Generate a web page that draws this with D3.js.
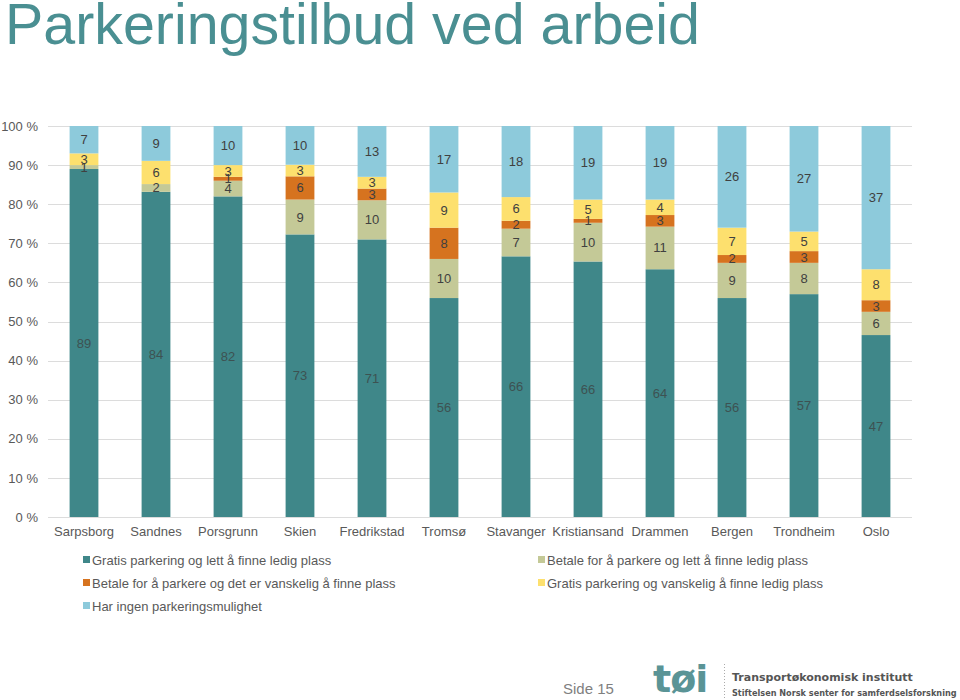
<!DOCTYPE html>
<html><head><meta charset="utf-8">
<script src="https://cdn.jsdelivr.net/npm/d3@7"></script>
<style>body{margin:0;background:#fff}svg{display:block}</style>
</head><body>
<script>
const categories = ["Sarpsborg","Sandnes","Porsgrunn","Skien","Fredrikstad","Tromsø","Stavanger","Kristiansand","Drammen","Bergen","Trondheim","Oslo"];
const seriesNames = ["Gratis parkering og lett å finne ledig plass","Betale for å parkere og lett å finne ledig plass","Betale for å parkere og det er vanskelig å finne plass","Gratis parkering og vanskelig å finne ledig plass","Har ingen parkeringsmulighet"];
const gratisLett     = [89,84,82,73,71,56,66,66,64,56,57,47];
const betaleLett     = [1,2,4,9,10,10,7,10,11,9,8,6];
const betaleVanskelig= [0,0,1,6,3,8,2,1,3,2,3,3];
const gratisVanskelig= [3,6,3,3,3,9,6,5,4,7,5,8];
const ingen          = [7,9,10,10,13,17,18,19,19,26,27,37];
const yTicks = [0,0.1,0.2,0.3,0.4,0.5,0.6,0.7,0.8,0.9,1];
const colors = ["#3f8789","#c4c997","#d6731f","#fde06e","#8dcadb"];
const labelColors = ["#3d5252","#404040","#404040","#404040","#404040"];

const W=960,H=700;
const svg=d3.select("body").append("svg").attr("width",W).attr("height",H);
const font="Liberation Sans, Arial, sans-serif";

const keys=["s0","s1","s2","s3","s4"];
const seriesArr=[gratisLett,betaleLett,betaleVanskelig,gratisVanskelig,ingen];
const rows=categories.map((c,i)=>{const r={cat:c};keys.forEach((k,j)=>r[k]=seriesArr[j][i]);return r;});
const stack=d3.stack().keys(keys).offset(d3.stackOffsetExpand)(rows);

const x=d3.scaleBand().domain(categories).range([48,912]).paddingInner(0.6).paddingOuter(0.3);
const y=d3.scaleLinear().domain([0,1]).range([517,126]);

// title
const title=svg.append("text").attr("x",5).attr("y",44).attr("fill","#4a8f92")
  .attr("font-family",font).attr("font-size",48).text("Parkeringstilbud ved arbeid");
const tl=title.node().getComputedTextLength();
title.attr("font-size",48*695/tl);

// gridlines
svg.append("g").selectAll("line").data(yTicks).join("line")
  .attr("x1",48).attr("x2",912).attr("y1",d=>Math.round(y(d))+0.5).attr("y2",d=>Math.round(y(d))+0.5)
  .attr("stroke","#dcdcdc").attr("stroke-width",1);

// y axis
const ya=svg.append("g").attr("transform","translate(48,0)")
  .call(d3.axisLeft(y).tickValues(yTicks).tickFormat(d=>Math.round(d*100)+" %").tickSize(0).tickPadding(10));
ya.select(".domain").remove();
ya.selectAll("text").attr("font-family",font).attr("font-size",13).attr("fill","#595959");

// x axis
const xa=svg.append("g").attr("transform","translate(0,517)")
  .call(d3.axisBottom(x).tickSize(0).tickPadding(10));
xa.select(".domain").remove();
xa.selectAll("text").attr("font-family",font).attr("font-size",13).attr("fill","#595959");

// bars
const g=svg.append("g");
stack.forEach((s,si)=>{
  g.selectAll(null).data(s).join("rect")
    .attr("x",d=>x(d.data.cat)).attr("width",x.bandwidth())
    .attr("y",d=>y(d[1])).attr("height",d=>Math.max(0,y(d[0])-y(d[1])))
    .attr("fill",colors[si]);
});
stack.forEach((s,si)=>{
  g.selectAll(null).data(s.filter(d=>d.data[keys[si]]>0)).join("text")
    .attr("x",d=>x(d.data.cat)+x.bandwidth()/2).attr("y",d=>(y(d[0])+y(d[1]))/2)
    .attr("dy","0.35em").attr("text-anchor","middle")
    .attr("font-family",font).attr("font-size",13).attr("fill",labelColors[si])
    .text(d=>d.data[keys[si]]);
});

// legend
const legPos=[[83,560],[538,560],[83,583],[538,583],[83,606]];
const lg=svg.append("g");
seriesNames.forEach((name,si)=>{
  const [lx,ly]=legPos[si];
  lg.append("rect").attr("x",lx).attr("y",ly-4).attr("width",7).attr("height",7).attr("fill",colors[si]);
  lg.append("text").attr("x",lx+9).attr("y",ly).attr("dy","0.35em").attr("font-family",font)
    .attr("font-size",13).attr("fill","#595959").text(name);
});

// footer
svg.append("text").attr("x",563).attr("y",694).attr("font-family",font).attr("font-size",15).attr("fill","#7f7f7f").text("Side 15");
svg.append("text").attr("x",653).attr("y",692).attr("font-family","DejaVu Sans, sans-serif").attr("font-weight","bold")
  .attr("font-size",38).attr("fill","#5a9496").attr("letter-spacing",-1).text("tøi");
svg.append("line").attr("x1",724.5).attr("x2",724.5).attr("y1",664).attr("y2",698).attr("stroke","#aaa").attr("stroke-dasharray","1,2");
svg.append("text").attr("x",732).attr("y",681).attr("font-family","DejaVu Sans, sans-serif").attr("font-weight","bold").attr("font-size",11).attr("fill","#555").text("Transportøkonomisk institutt");
const t2=svg.append("text").attr("x",732).attr("y",696).attr("font-family","DejaVu Sans, sans-serif").attr("font-weight","bold").attr("font-size",11).attr("fill","#555").text("Stiftelsen Norsk senter for samferdselsforskning");
const l2=t2.node().getComputedTextLength(); t2.attr("font-size",11*225/l2);
</script>
</body></html>
